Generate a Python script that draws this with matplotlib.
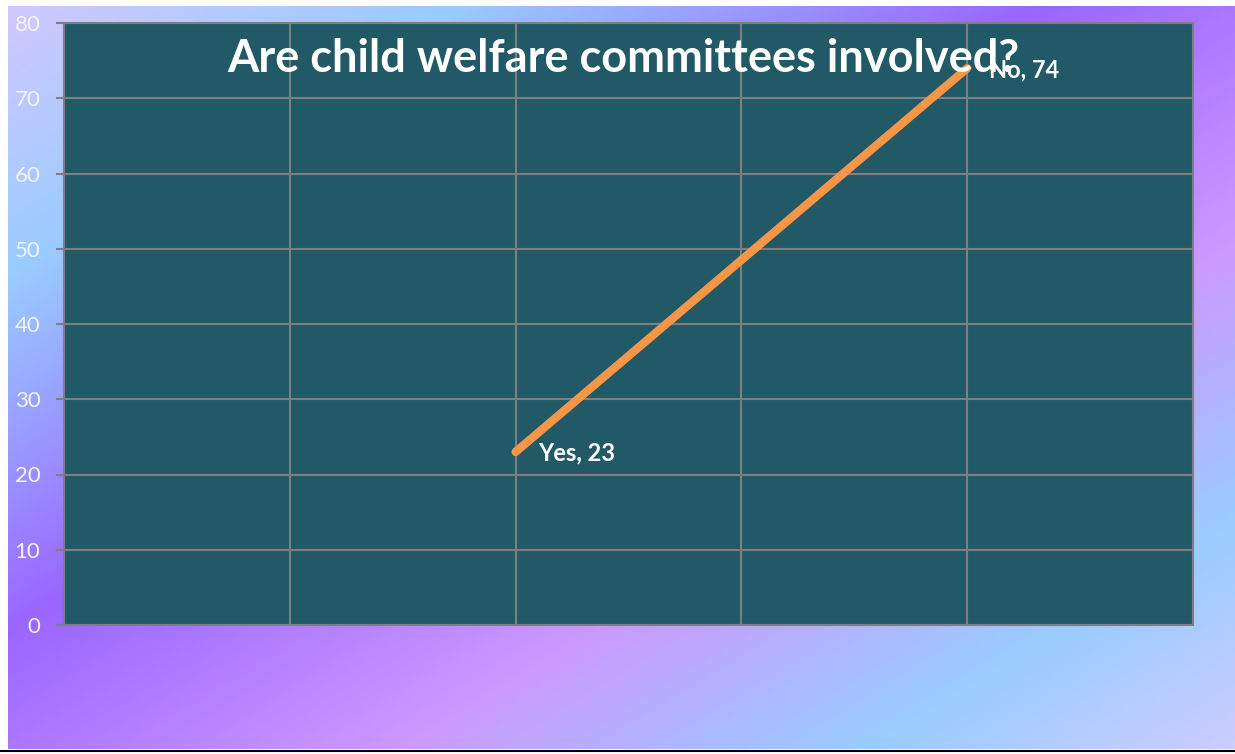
import numpy as np
import matplotlib
matplotlib.use("Agg")
import matplotlib.pyplot as plt
from matplotlib.colors import LinearSegmentedColormap

# --- Data ---
answers = ["Yes", "No"]
counts = [23, 74]
answer_x = [2, 4]          # position of each answer along the x axis
y_ticks = [0, 10, 20, 30, 40, 50, 60, 70, 80]
title = "Are child welfare committees involved?"

FONT = "Lato"
W, H, DPI = 1235, 754, 100

fig = plt.figure(figsize=(W / DPI, H / DPI), dpi=DPI, facecolor="white")

# --- Diagonal gradient behind everything ---
bg = fig.add_axes([8 / W, 5 / H, 1 - 8 / W, 1 - 11 / H], zorder=-10)
grad = LinearSegmentedColormap.from_list(
    "bg",
    [(0.00, "#d0c8ff"), (0.18, "#99ccff"), (0.42, "#9a66ff"),
     (0.66, "#cc99ff"), (0.85, "#99ccff"), (1.00, "#ccccff")],
)
gx, gy = np.meshgrid(np.linspace(0, 1, 400), np.linspace(0, 1, 250))
bg.imshow((gx + gy) / 2, cmap=grad, aspect="auto", extent=(0, 1, 1, 0),
          interpolation="bilinear")
bg.set_axis_off()

# thin black rule along the bottom edge
fig.add_artist(plt.Line2D([0, 1], [3 / H, 3 / H], color="black", lw=1.5,
                          transform=fig.transFigure))

# --- Plot area ---
ax = fig.add_axes([64 / W, 1 - 625 / H, (1193 - 64) / W, (625 - 23) / H])
ax.set_facecolor("#215967")
ax.set_xlim(0, 5)
ax.set_ylim(0, 80)

ax.set_yticks(y_ticks)
ax.set_xticks([1, 2, 3, 4])
ax.grid(True, color="#7f7f7f", lw=1.5)
ax.set_axisbelow(True)
for s in ax.spines.values():
    s.set_color("#7f7f7f")
    s.set_linewidth(1.5)
ax.tick_params(axis="y", colors="#7f7f7f", length=6, width=1.5, pad=11,
               labelcolor="#f4f4ff", labelsize=16)
ax.tick_params(axis="x", length=0, labelbottom=False)
for lbl in ax.get_yticklabels():
    lbl.set_fontfamily(FONT)

ax.plot(answer_x, counts, color="#f79646", lw=6, solid_capstyle="round", zorder=3)

for name, x, v in zip(answers, answer_x, counts):
    ax.annotate(f"{name}, {v}", (x, v), xytext=(16, -1), textcoords="offset points",
                ha="left", va="center", color="white", fontsize=17,
                fontweight="bold", family=FONT, zorder=4)

ax.text(0.495, 0.94, title, transform=ax.transAxes, ha="center", va="center",
        color="white", fontsize=32.5, fontweight="bold", family=FONT, zorder=5)

fig.savefig("out.png", dpi=DPI)
